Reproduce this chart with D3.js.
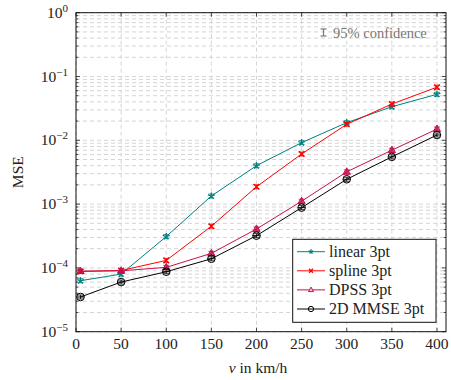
<!DOCTYPE html>
<html><head><meta charset="utf-8">
<script src="https://cdn.jsdelivr.net/npm/d3@7"></script>
<style>
body{margin:0;background:#fff;}
</style>
</head><body>
<svg id="c" width="451" height="380"></svg>
<script>
const speeds = [5, 50, 100, 150, 200, 250, 300, 350, 400];
const linear3pt = [6.3e-5, 8.0e-5, 3.1e-4, 1.34e-3, 4.0e-3, 9.2e-3, 1.89e-2, 3.36e-2, 5.26e-2];
const spline3pt = [8.8e-5, 9.1e-5, 1.31e-4, 4.5e-4, 1.87e-3, 6.1e-3, 1.78e-2, 3.7e-2, 6.8e-2];
const dpss3pt = [8.9e-5, 9.0e-5, 1.02e-4, 1.69e-4, 4.07e-4, 1.11e-3, 3.2e-3, 7.0e-3, 1.5e-2];
const mmse3pt = [3.5e-5, 6.0e-5, 8.7e-5, 1.39e-4, 3.2e-4, 8.8e-4, 2.45e-3, 5.5e-3, 1.21e-2];
const seriesNames = ["linear 3pt", "spline 3pt", "DPSS 3pt", "2D MMSE 3pt"];
const xTicks = [0, 50, 100, 150, 200, 250, 300, 350, 400];
const yExponents = [0, -1, -2, -3, -4, -5];

const FONT = "Liberation Serif";
const svg = d3.select("#c");
const L = 76, R = 446, T = 12.7, B = 331.7;
const x = d3.scaleLinear().domain([0, 410]).range([L, R]);
const y = d3.scaleLog().domain([1e-5, 1]).range([B, T]);

const grid = svg.append("g").attr("stroke", "#d0d0d0").attr("stroke-width", 0.9).attr("stroke-dasharray", "4,3");
const yMinor = [];
for (let e = -5; e < 0; e++) for (let m = 1; m <= 9; m++) yMinor.push(m * Math.pow(10, e));
yMinor.push(1);
grid.selectAll("line.h").data(yMinor).enter().append("line")
  .attr("x1", L).attr("x2", R).attr("y1", d => y(d)).attr("y2", d => y(d));
grid.selectAll("line.v").data(xTicks).enter().append("line")
  .attr("y1", T).attr("y2", B).attr("x1", d => x(d)).attr("x2", d => x(d));

const ax = svg.append("g").attr("stroke", "#222").attr("stroke-width", 0.8);
xTicks.forEach(t => {
  ax.append("line").attr("x1", x(t)).attr("x2", x(t)).attr("y1", B).attr("y2", B - 4);
  ax.append("line").attr("x1", x(t)).attr("x2", x(t)).attr("y1", T).attr("y2", T + 4);
});
yMinor.forEach(v => {
  const major = Math.abs(Math.log10(v) - Math.round(Math.log10(v))) < 1e-9;
  const len = major ? 4 : 2.2;
  ax.append("line").attr("x1", L).attr("x2", L + len).attr("y1", y(v)).attr("y2", y(v));
  ax.append("line").attr("x1", R).attr("x2", R - len).attr("y1", y(v)).attr("y2", y(v));
});
svg.append("rect").attr("x", L).attr("y", T).attr("width", R - L).attr("height", B - T)
  .attr("fill", "none").attr("stroke", "#111").attr("stroke-width", 1);

svg.append("g").selectAll("text").data(xTicks).enter().append("text")
  .attr("x", d => x(d)).attr("y", 349).attr("text-anchor", "middle").style("font-family", FONT)
  .attr("font-size", 15.5).attr("fill", "#222").text(d => d);
yExponents.forEach(e => {
  const t = svg.append("text").attr("x", 68).attr("y", y(Math.pow(10, e)) + 5).style("font-family", FONT)
    .attr("text-anchor", "end").attr("font-size", 15.5).attr("fill", "#222");
  t.append("tspan").text("10");
  t.append("tspan").attr("dy", -6).attr("font-size", 11).text(e === 0 ? "0" : "\u2212" + (-e));
});

svg.append("text").attr("transform", "translate(23," + ((T + B) / 2) + ") rotate(-90)").style("font-family", FONT)
  .attr("text-anchor", "middle").attr("font-size", 15.5).attr("fill", "#222").text("MSE");
const xl = svg.append("text").attr("x", (L + R) / 2 - 3).attr("y", 373).attr("text-anchor", "middle").style("font-family", FONT)
  .attr("font-size", 15.5).attr("fill", "#222");
xl.append("tspan").attr("font-style", "italic").text("v");
xl.append("tspan").text(" in km/h");

svg.append("text").attr("x", 333).attr("y", 38).attr("font-size", 14.5).style("font-family", FONT).attr("fill", "#777").text("95% confidence");
const cg = svg.append("g").attr("stroke", "#777").attr("stroke-width", 1.2);
cg.append("line").attr("x1", 323.5).attr("x2", 323.5).attr("y1", 29).attr("y2", 36);
cg.append("line").attr("x1", 320.5).attr("x2", 326.5).attr("y1", 29).attr("y2", 29);
cg.append("line").attr("x1", 320.5).attr("x2", 326.5).attr("y1", 36).attr("y2", 36);

const colors = ["#008080", "#ff0000", "#c4104e", "#000000"];
const allData = [linear3pt, spline3pt, dpss3pt, mmse3pt];

function drawMarker(g, type, cx, cy, color, scale) {
  const s = scale || 1;
  if (type === 0) {
    for (let i = 0; i < 5; i++) {
      const a = -Math.PI / 2 + i * 2 * Math.PI / 5;
      g.append("line").attr("x1", cx).attr("y1", cy).attr("x2", cx + 3.6 * s * Math.cos(a)).attr("y2", cy + 3.6 * s * Math.sin(a))
        .attr("stroke", color).attr("stroke-width", 1.3);
    }
  } else if (type === 1) {
    const r = 2.8 * s;
    g.append("path").attr("d", `M${cx - r},${cy - r}L${cx + r},${cy + r}M${cx - r},${cy + r}L${cx + r},${cy - r}`)
      .attr("stroke", color).attr("stroke-width", 1.4).attr("fill", "none");
  } else if (type === 2) {
    const r = 4 * s;
    g.append("path").attr("d", `M${cx},${cy - r}L${cx + r * 0.9},${cy + r * 0.6}L${cx - r * 0.9},${cy + r * 0.6}Z`)
      .attr("stroke", color).attr("stroke-width", 1).attr("fill", scale ? "#f3c8d7" : color).attr("fill-opacity", scale ? 1 : 0.75);
  } else {
    const r = 3.8 * s;
    g.append("circle").attr("cx", cx).attr("cy", cy).attr("r", r).attr("stroke", color).attr("stroke-width", 1)
      .attr("fill", "none");
    if (!scale) g.append("line").attr("x1", cx - r).attr("x2", cx + r).attr("y1", cy).attr("y2", cy)
      .attr("stroke", color).attr("stroke-width", 1);
  }
}

const line = d3.line().x((d, i) => x(speeds[i])).y(d => y(d));
allData.forEach((vals, k) => {
  const g = svg.append("g");
  g.append("path").datum(vals).attr("d", line).attr("fill", "none").attr("stroke", colors[k]).attr("stroke-width", 1);
  vals.forEach((v, i) => {
    const cx = x(speeds[i]), cy = y(v);
    g.append("path").attr("d", `M${cx - 3},${cy - 2}L${cx + 3},${cy - 2}M${cx},${cy - 2}L${cx},${cy + 2}M${cx - 3},${cy + 2}L${cx + 3},${cy + 2}`)
      .attr("stroke", colors[k]).attr("stroke-width", 0.8).attr("fill", "none");
    drawMarker(g, k, cx, cy, colors[k]);
  });
});

const lg = svg.append("g");
lg.append("rect").attr("x", 292.7).attr("y", 239.3).attr("width", 143.3).attr("height", 83)
  .attr("fill", "#fff").attr("stroke", "#111").attr("stroke-width", 1);
seriesNames.forEach((n, k) => {
  const yy = 251.7 + k * 19.1;
  lg.append("line").attr("x1", 297).attr("x2", 325).attr("y1", yy).attr("y2", yy).attr("stroke", colors[k]).attr("stroke-width", 1);
  drawMarker(lg, k, 311, yy, colors[k], 0.7);
  lg.append("text").attr("x", 329).attr("y", yy + 5).attr("font-size", 16).style("font-family", FONT).attr("fill", "#222").text(n);
});
</script>
</body></html>
